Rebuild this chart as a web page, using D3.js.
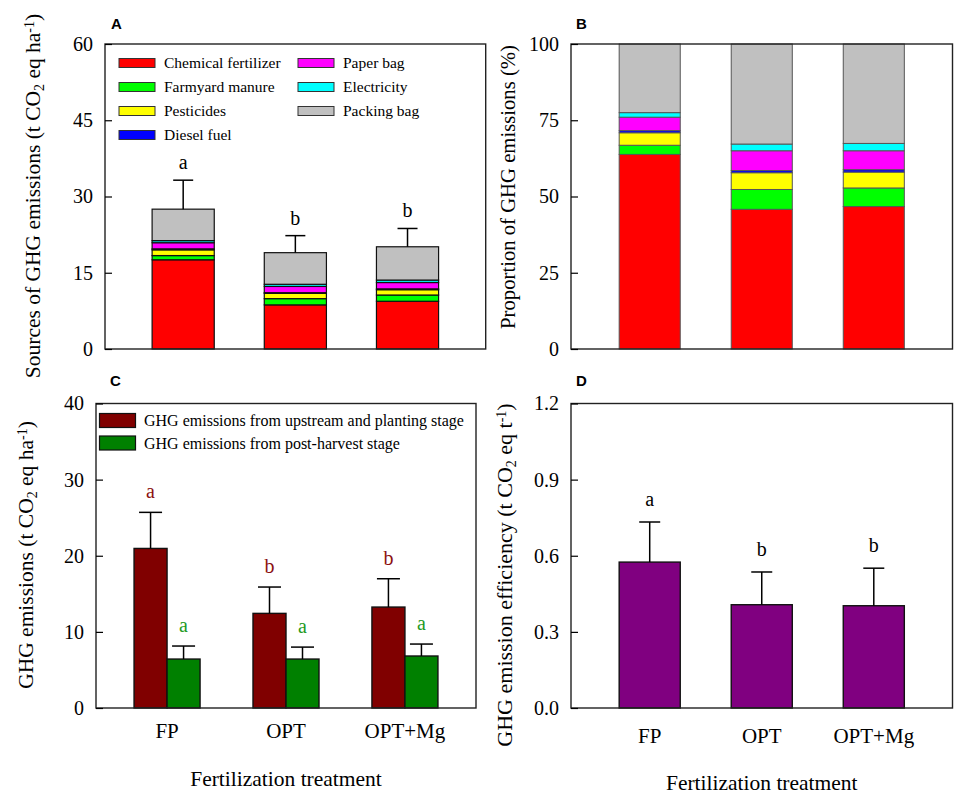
<!DOCTYPE html>
<html lang="en">
<head>
    <meta charset="UTF-8">
    <title>GHG emissions by fertilization treatment</title>
    <script src="https://cdn.jsdelivr.net/npm/d3@7"></script>
    <style>
        body { margin: 0; background: #ffffff; }
        svg { display: block; }
        text { font-family: 'Liberation Serif', 'Times New Roman', serif; }
        .panel-label { font-family: 'Liberation Sans', Arial, sans-serif; font-weight: bold; font-size: 15px; }
        .tick text { font-family: 'Liberation Serif', 'Times New Roman', serif; font-size: 20px; fill: #000; }
        .tick line { stroke: #000; stroke-width: 1.2; }
    </style>
</head>
<body>
<svg id="chart" width="957" height="804"></svg>
<script>
    const SERIF = "'Liberation Serif', 'Times New Roman', serif";

    // treatments (x categories)
    const treatments = ["FP", "OPT", "OPT+Mg"];

    // panel A / B: emission sources
    const sources = ["Chemical fertilizer", "Farmyard manure", "Pesticides", "Diesel fuel",
                     "Paper bag", "Electricity", "Packing bag"];
    const sourceColors = ["#ff0000", "#00ff00", "#ffff00", "#0000ff", "#ff00ff", "#00ffff", "#c0c0c0"];

    // panel A: t CO2 eq ha-1 per source (same order as sources)
    const sourceFP     = [17.55, 0.83, 1.13, 0.19, 1.21, 0.41, 6.19];
    const sourceOPT    = [8.68, 1.23, 1.04, 0.13, 1.23, 0.42, 6.22];
    const sourceOPTMg  = [9.39, 1.23, 1.05, 0.16, 1.25, 0.48, 6.55];
    const totalErr     = [5.7, 3.35, 3.6];
    const lettersA     = ["a", "b", "b"];

    // panel B: proportion (%) per source
    const shareFP      = [63.8, 3.0, 4.1, 0.7, 4.4, 1.5, 22.5];
    const shareOPT     = [45.8, 6.5, 5.5, 0.7, 6.5, 2.2, 32.8];
    const shareOPTMg   = [46.7, 6.1, 5.2, 0.8, 6.2, 2.4, 32.6];

    // panel C: stages
    const stages = ["GHG emissions from upstream and planting stage", "GHG emissions from post-harvest stage"];
    const stageColors = ["#800000", "#008000"];
    const letterColors = ["#8b1010", "#1f9a1f"];
    const upstream     = [20.96, 12.43, 13.26];
    const upstreamErr  = [4.74, 3.46, 3.72];
    const postHarvest  = [6.43, 6.43, 6.83];
    const postErr      = [1.71, 1.57, 1.57];
    const lettersUp    = ["a", "b", "b"];
    const lettersPost  = ["a", "a", "a"];

    // panel D: emission efficiency
    const efficiency   = [0.575, 0.407, 0.403];
    const efficiencyErr = [0.158, 0.129, 0.148];
    const lettersD     = ["a", "b", "b"];

    const yTicksA = [0, 15, 30, 45, 60];
    const yTicksB = [0, 25, 50, 75, 100];
    const yTicksC = [0, 10, 20, 30, 40];
    const yTicksD = [0, 0.3, 0.6, 0.9, 1.2];

    const svg = d3.select("#chart");
    svg.append("rect").attr("width", 957).attr("height", 804).attr("fill", "#fff");

    function frame(x0, x1, y0, y1) {
        svg.append("rect")
            .attr("x", x0).attr("y", y0)
            .attr("width", x1 - x0).attr("height", y1 - y0)
            .attr("fill", "none").attr("stroke", "#222").attr("stroke-width", 1.4);
    }

    function yAxis(scale, x0, ticks, fmt) {
        const g = svg.append("g")
            .attr("transform", `translate(${x0},0)`)
            .call(d3.axisLeft(scale).tickValues(ticks).tickSize(-7).tickPadding(12).tickFormat(fmt));
        g.select(".domain").remove();
        g.attr("font-family", SERIF).attr("font-size", 20);
    }

    function yTitle(x, y, size, parts) {
        const t = svg.append("text").attr("font-family", SERIF)
            .attr("transform", `translate(${x},${y}) rotate(-90)`)
            .attr("text-anchor", "middle").attr("font-size", size);
        parts.forEach(p => {
            const s = t.append("tspan").text(p[0]);
            if (p[1] === "sub") s.attr("baseline-shift", "-25%").attr("font-size", 14);
            if (p[1] === "sup") s.attr("baseline-shift", "45%").attr("font-size", 14);
        });
    }

    function panelLabel(x, y, s) {
        svg.append("text").attr("class", "panel-label").attr("x", x).attr("y", y).text(s);
    }

    function errorBar(cx, yTop, yErr, cap) {
        svg.append("line").attr("x1", cx).attr("x2", cx).attr("y1", yTop).attr("y2", yErr)
            .attr("stroke", "#000").attr("stroke-width", 1.5);
        svg.append("line").attr("x1", cx - cap / 2).attr("x2", cx + cap / 2).attr("y1", yErr).attr("y2", yErr)
            .attr("stroke", "#000").attr("stroke-width", 1.5);
    }

    function letter(cx, y, s, color) {
        svg.append("text").attr("font-family", SERIF).attr("x", cx).attr("y", y)
            .attr("text-anchor", "middle").attr("font-size", 20).attr("fill", color || "#000").text(s);
    }

    function xLabels(x, yBase, titleY) {
        treatments.forEach(t => {
            svg.append("text").attr("font-family", SERIF)
                .attr("x", x(t) + x.bandwidth() / 2).attr("y", yBase)
                .attr("text-anchor", "middle").attr("font-size", 21).text(t);
        });
        const r = x.range();
        svg.append("text").attr("font-family", SERIF)
            .attr("x", (r[0] + r[1]) / 2).attr("y", titleY)
            .attr("text-anchor", "middle").attr("font-size", 21.5).text("Fertilization treatment");
    }

    // ---------- Panel A ----------
    const ax0 = 105, ax1 = 485.7, ay0 = 44, ay1 = 349;
    const xA = d3.scaleBand().domain(treatments).range([ax0, ax1]).paddingInner(0.446).paddingOuter(0.42);
    const yA = d3.scaleLinear().domain([0, 60]).range([ay1, ay0]);

    const rowsA = [sourceFP, sourceOPT, sourceOPTMg].map((vals, i) => {
        const row = { treatment: treatments[i] };
        sources.forEach((s, j) => row[s] = vals[j]);
        return row;
    });
    const stackA = d3.stack().keys(sources)(rowsA);

    svg.append("g").selectAll("g").data(stackA).join("g")
        .attr("fill", (d, i) => sourceColors[i])
        .selectAll("rect").data(d => d).join("rect")
        .attr("x", d => xA(d.data.treatment))
        .attr("width", xA.bandwidth())
        .attr("y", d => yA(d[1]))
        .attr("height", d => yA(d[0]) - yA(d[1]))
        .attr("stroke", "#111").attr("stroke-width", 1.2);

    treatments.forEach((t, i) => {
        const total = d3.sum(sources.map(s => rowsA[i][s]));
        const cx = xA(t) + xA.bandwidth() / 2;
        errorBar(cx, yA(total), yA(total + totalErr[i]), 20);
        letter(cx, yA(total + totalErr[i]) - 11, lettersA[i]);
    });

    frame(ax0, ax1, ay0, ay1);
    yAxis(yA, ax0, yTicksA, d3.format("d"));
    yTitle(40, 196, 21.5, [["Sources of GHG emissions (t CO"], ["2", "sub"], [" eq ha"], ["-1", "sup"], [")"]]);
    panelLabel(111, 29, "A");

    // legend A
    const legA = svg.append("g");
    sources.forEach((s, i) => {
        const col = i < 4 ? 0 : 1;
        const row = i < 4 ? i : i - 4;
        const gx = col === 0 ? 119 : 298;
        const gy = 63 + row * 24;
        legA.append("rect").attr("x", gx).attr("y", gy - 4.5).attr("width", 36).attr("height", 9)
            .attr("fill", sourceColors[i]).attr("stroke", "#333").attr("stroke-width", 1);
        legA.append("text").attr("font-family", SERIF).attr("x", gx + 45).attr("y", gy + 5)
            .attr("font-size", 15.5).text(s);
    });

    // ---------- Panel B ----------
    const bx0 = 571, bx1 = 952.5, by0 = 44, by1 = 349;
    const xB = d3.scaleBand().domain(treatments).range([bx0, bx1]).paddingInner(0.455).paddingOuter(0.43);
    const yB = d3.scaleLinear().domain([0, 100]).range([by1, by0]);

    const rowsB = [shareFP, shareOPT, shareOPTMg].map((vals, i) => {
        const row = { treatment: treatments[i] };
        sources.forEach((s, j) => row[s] = vals[j]);
        return row;
    });
    const stackB = d3.stack().keys(sources)(rowsB);

    svg.append("g").selectAll("g").data(stackB).join("g")
        .attr("fill", (d, i) => sourceColors[i])
        .selectAll("rect").data(d => d).join("rect")
        .attr("x", d => xB(d.data.treatment))
        .attr("width", xB.bandwidth())
        .attr("y", d => yB(d[1]))
        .attr("height", d => yB(d[0]) - yB(d[1]))
        .attr("stroke", "#555").attr("stroke-width", 1);

    frame(bx0, bx1, by0, by1);
    yAxis(yB, bx0, yTicksB, d3.format("d"));
    yTitle(515, 187, 20.7, [["Proportion of GHG emissions (%)"]]);
    panelLabel(576, 29, "B");

    // ---------- Panel C ----------
    const cx0 = 96, cx1 = 476, cy0 = 403.5, cy1 = 708;
    const xC = d3.scaleBand().domain(treatments).range([cx0, cx1]).paddingInner(0.445).paddingOuter(0.32);
    const xCin = d3.scaleBand().domain([0, 1]).range([0, xC.bandwidth()]);
    const yC = d3.scaleLinear().domain([0, 40]).range([cy1, cy0]);

    const stageVals = [upstream, postHarvest];
    const stageErrs = [upstreamErr, postErr];
    const stageLetters = [lettersUp, lettersPost];

    stageVals.forEach((vals, k) => {
        svg.append("g").selectAll("rect").data(vals).join("rect")
            .attr("x", (d, i) => xC(treatments[i]) + xCin(k))
            .attr("width", xCin.bandwidth())
            .attr("y", d => yC(d))
            .attr("height", d => cy1 - yC(d))
            .attr("fill", stageColors[k])
            .attr("stroke", "#111").attr("stroke-width", 1.4);
        vals.forEach((v, i) => {
            const cx = xC(treatments[i]) + xCin(k) + xCin.bandwidth() / 2;
            const top = v + stageErrs[k][i];
            errorBar(cx, yC(v), yC(top), 23);
            letter(cx, yC(top) - 14, stageLetters[k][i], letterColors[k]);
        });
    });

    frame(cx0, cx1, cy0, cy1);
    yAxis(yC, cx0, yTicksC, d3.format("d"));
    yTitle(33, 555, 21.5, [["GHG emissions (t CO"], ["2", "sub"], [" eq ha"], ["-1", "sup"], [")"]]);
    panelLabel(110, 386, "C");

    // legend C
    stages.forEach((s, i) => {
        const gy = 420.5 + i * 22.5;
        svg.append("rect").attr("x", 99.5).attr("y", gy - 7).attr("width", 36).attr("height", 14)
            .attr("fill", stageColors[i]).attr("stroke", "#111").attr("stroke-width", 1.2);
        svg.append("text").attr("font-family", SERIF).attr("x", 144).attr("y", gy + 5.5)
            .attr("font-size", 16).text(s);
    });

    xLabels(xC, 738, 786);

    // ---------- Panel D ----------
    const dx0 = 571, dx1 = 952.5, dy0 = 403.5, dy1 = 708;
    const xD = d3.scaleBand().domain(treatments).range([dx0, dx1]).paddingInner(0.455).paddingOuter(0.43);
    const yD = d3.scaleLinear().domain([0, 1.2]).range([dy1, dy0]);

    svg.append("g").selectAll("rect").data(efficiency).join("rect")
        .attr("x", (d, i) => xD(treatments[i]))
        .attr("width", xD.bandwidth())
        .attr("y", d => yD(d))
        .attr("height", d => dy1 - yD(d))
        .attr("fill", "#800080")
        .attr("stroke", "#111").attr("stroke-width", 1.4);

    efficiency.forEach((v, i) => {
        const cx = xD(treatments[i]) + xD.bandwidth() / 2;
        const top = v + efficiencyErr[i];
        errorBar(cx, yD(v), yD(top), 21);
        letter(cx, yD(top) - 16, lettersD[i]);
    });

    frame(dx0, dx1, dy0, dy1);
    yAxis(yD, dx0, yTicksD, d3.format(".1f"));
    yTitle(512, 575, 22, [["GHG emission efficiency  (t CO"], ["2", "sub"], [" eq t"], ["-1", "sup"], [")"]]);
    panelLabel(576, 386, "D");

    xLabels(xD, 743, 790);
</script>
</body>
</html>
